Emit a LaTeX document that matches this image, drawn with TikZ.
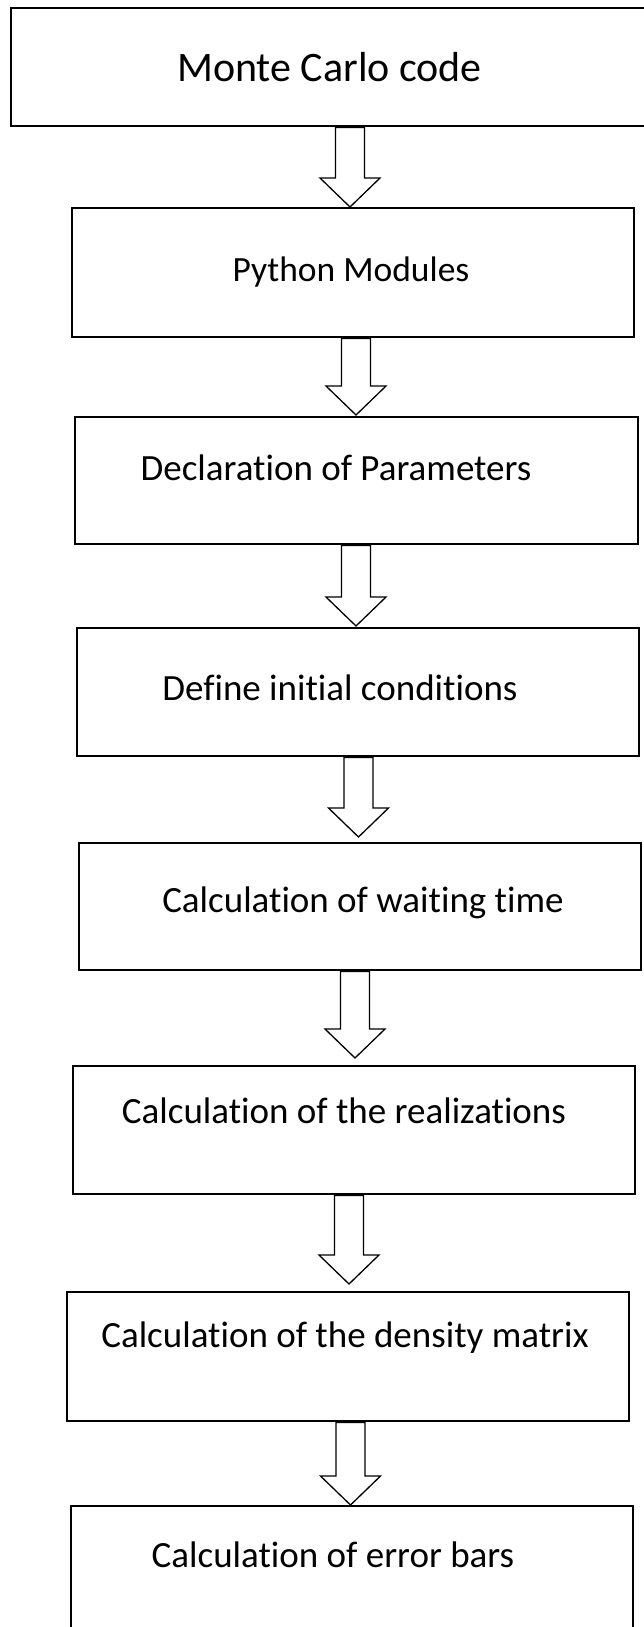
\documentclass[tikz,border=0pt]{standalone}
\usepackage{fontspec}
\setmainfont{Carlito}[Ligatures=NoCommon]
\usetikzlibrary{calc}
\tikzset{
  stepbox/.style={draw=black, line width=1.6pt, rectangle, inner sep=0pt, outer sep=0pt},
  steptext/.style={anchor=base, inner sep=0pt, font=\fontsize{37}{42}\selectfont},
  smalltext/.style={anchor=base, inner sep=0pt, font=\fontsize{35.5}{40}\selectfont},
  titletext/.style={anchor=base, inner sep=0pt, font=\fontsize{42}{47}\selectfont},
  blockarrow/.style={draw=black, fill=white, line width=1.3pt, line join=miter}
}
% #1 upper node, #2 lower node, #3 x centre, #4 gap above lower node
\newcommand\blkarrow[4]{%
  \draw[blockarrow] let \p1=(#1.south), \p2=(#2.north) in
    ({#3pt-14.5pt},{\y1-1.5pt}) -- ({#3pt+14.5pt},{\y1-1.5pt})
    -- ({#3pt+14.5pt},{\y2+#4pt+29pt}) -- ({#3pt+30pt},{\y2+#4pt+29pt})
    -- ({#3pt},{\y2+#4pt}) -- ({#3pt-30pt},{\y2+#4pt+29pt})
    -- ({#3pt-14.5pt},{\y2+#4pt+29pt}) -- cycle;}
\newcommand\boxat[5]{% name, left, top, right, bottom
  \node[stepbox, minimum width={(#4-#2)*1pt}, minimum height={(#5-#3)*1pt}]
    (#1) at ({(#2+#4)/2},{(#3+#5)/2}) {};}
\begin{document}
\begin{tikzpicture}[x=1pt,y=-1pt]
\useasboundingbox[fill=white] (0,0) rectangle (643,1627);
\boxat{b1}{11}{8}{680}{126}
\boxat{b2}{72}{208}{634}{337}
\boxat{b3}{75}{417}{638}{544}
\boxat{b4}{77}{628}{639}{756}
\boxat{b5}{79}{843}{641}{970}
\boxat{b6}{73}{1066}{635}{1194}
\boxat{b7}{67}{1292}{629}{1421}
\boxat{b8}{71}{1506}{633}{1680}
\node[titletext] (t1) at (329.5,82) {Monte Carlo code};
\node[smalltext] (t2) at (351,281) {Python Modules};
\node[steptext] (t3) at (336,480) {Declaration of Parameters};
\node[steptext] (t4) at (340,700) {Define initial conditions};
\node[steptext] (t5) at (363,912) {Calculation of waiting time};
\node[steptext] (t6) at (344,1123) {Calculation of the realizations};
\node[steptext] (t7) at (345,1347) {Calculation of the density matrix};
\node[steptext] (t8) at (333,1567) {Calculation of error bars};
\blkarrow{b1}{b2}{350}{1}
\blkarrow{b2}{b3}{356}{2}
\blkarrow{b3}{b4}{356}{2}
\blkarrow{b4}{b5}{358.5}{6}
\blkarrow{b5}{b6}{355}{8}
\blkarrow{b6}{b7}{349}{8}
\blkarrow{b7}{b8}{350.5}{1}
\end{tikzpicture}
\end{document}
